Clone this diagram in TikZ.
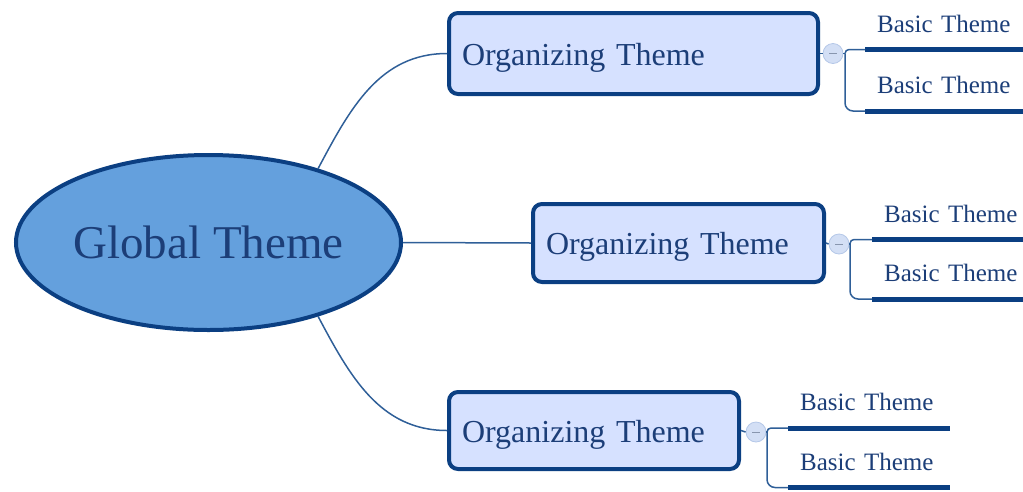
\documentclass[tikz,border=0pt]{standalone}
\usepackage{fontspec}
\setmainfont{Liberation Serif}
\usetikzlibrary{shapes.geometric}
\definecolor{dkblue}{HTML}{0B3F82}
\definecolor{txtblue}{HTML}{1C3E78}
\definecolor{linkblue}{HTML}{2F5F98}
\definecolor{globfill}{HTML}{64A0DD}
\definecolor{orgfill}{HTML}{D6E1FF}
\definecolor{dotfill}{HTML}{D3DFF5}
\definecolor{dotedge}{HTML}{B5C8E8}
\tikzset{
  global/.style={ellipse, draw=dkblue, line width=4pt, fill=globfill, inner sep=0pt,
    text=txtblue, font=\fontsize{47}{50}\selectfont},
  orgbox/.style={rectangle, rounded corners=9pt, draw=dkblue, line width=4pt, fill=orgfill,
    inner xsep=13pt, inner ysep=0pt, align=left, text=txtblue, text height=27pt, text depth=4pt,
    font=\fontsize{32}{34}\selectfont},
  basicnode/.style={inner xsep=12pt, inner ysep=0pt, text height=18pt, text depth=17pt,
    align=left, text=txtblue, font=\fontsize{25}{27}\selectfont, anchor=south west},
  underl/.style={draw=dkblue, line width=5pt},
  conn/.style={draw=linkblue, line width=1.5pt},
  dot/.style={circle, minimum size=20pt, inner sep=0pt, fill=dotfill, draw=dotedge, line width=0.8pt},
  minusline/.style={draw=dotedge!75!black, line width=1pt}
}
\begin{document}
\begin{tikzpicture}[x=1pt,y=-1pt]
\useasboundingbox (0,0) rectangle (1023,491);

% global theme
\node[global, minimum width=385pt, minimum height=175pt] (g) at (208.5,242.5) {Global Theme};

% organizing themes
\node[orgbox, text width=343pt, minimum height=81pt] (o1) at (633.5,53.5) {Organizing Theme};
\node[orgbox, text width=265pt, minimum height=78pt] (o2) at (678.5,243) {Organizing Theme};
\node[orgbox, text width=264pt, minimum height=77pt] (o3) at (594,430.5) {Organizing Theme};

% links global -> organizing
\draw[conn] (g.34) to[out=62,in=180] (o1.west);
\draw[conn] (g.east) -- (o2.west);
\draw[conn] (g.-34) to[out=-62,in=180] (o3.west);

% collapse dots
\node[dot] (c1) at (833,53.5) {};
\node[dot] (c2) at (839,244) {};
\node[dot] (c3) at (756,432) {};
\draw[conn] (o1.east) -- (c1.west);
\draw[conn] (o2.east) -- (c2.west);
\draw[conn] (o3.east) -- (c3.west);
\foreach \c in {c1,c2,c3}{
  \draw[minusline] ([xshift=-4pt]\c.center) -- ([xshift=4pt]\c.center);
}

% basic themes
\node[basicnode, text width=134pt] (b11) at (865,49.5) {\mbox{Basic Theme}};
\node[basicnode, text width=134pt] (b12) at (865,111) {\mbox{Basic Theme}};
\node[basicnode, text width=127pt] (b21) at (872,239.5) {\mbox{Basic Theme}};
\node[basicnode, text width=127pt] (b22) at (872,299) {\mbox{Basic Theme}};
\node[basicnode, text width=138pt] (b31) at (788,428) {\mbox{Basic Theme}};
\node[basicnode, text width=138pt] (b32) at (788,487.5) {\mbox{Basic Theme}};
\foreach \b in {b11,b12,b21,b22,b31,b32}{
  \draw[underl] (\b.south west) -- (\b.south east);
}

% brackets
\coordinate (j1) at (845,53.5);
\coordinate (j2) at (850,244);
\coordinate (j3) at (767,432);
\draw[conn] (c1.east) -- (j1);
\draw[conn] (c2.east) -- (j2);
\draw[conn] (c3.east) -- (j3);
\draw[conn, rounded corners=4pt] (j1) |- (b11.south west);
\draw[conn, rounded corners=8pt] (j1) |- (b12.south west);
\draw[conn, rounded corners=4pt] (j2) |- (b21.south west);
\draw[conn, rounded corners=8pt] (j2) |- (b22.south west);
\draw[conn, rounded corners=4pt] (j3) |- (b31.south west);
\draw[conn, rounded corners=8pt] (j3) |- (b32.south west);
\end{tikzpicture}
\end{document}
